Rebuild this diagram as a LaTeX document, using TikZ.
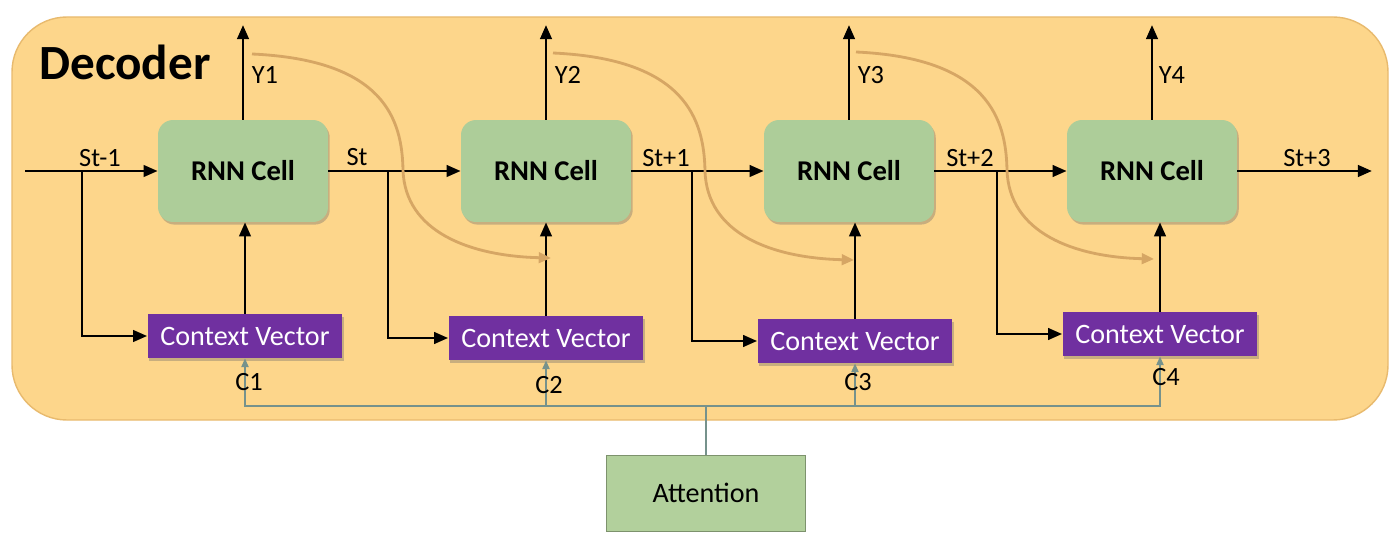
\documentclass[tikz,border=0pt]{standalone}
\usepackage{fontspec}
\setmainfont{Carlito}
\usetikzlibrary{arrows.meta,shadows}

\definecolor{decfill}{RGB}{253,214,139}
\definecolor{decedge}{RGB}{232,186,110}
\definecolor{cellfill}{RGB}{173,205,153}
\definecolor{cvfill}{RGB}{112,48,160}
\definecolor{attfill}{RGB}{178,208,156}
\definecolor{curvec}{RGB}{214,166,100}
\definecolor{busc}{RGB}{118,146,140}

\begin{document}
\begin{tikzpicture}
[x=0.02cm,y=-0.02cm,
>={Triangle[length=8pt,width=6.5pt]},
cell/.style={draw=none, fill=cellfill, rounded corners=0.3cm,
  minimum width=3.4cm, minimum height=2.04cm,
  font=\fontsize{16.3}{19}\selectfont\bfseries,
  drop shadow={shadow xshift=1pt, shadow yshift=-1.5pt, opacity=0.35, fill=black!60}},
cvbox/.style={fill=cvfill, text=white, minimum width=3.9cm, minimum height=0.88cm,
  font=\fontsize{16}{19}\selectfont,
  drop shadow={shadow xshift=1pt, shadow yshift=-1.5pt, opacity=0.35, fill=black!60}},
lbl/.style={font=\fontsize{15}{17}\selectfont, inner sep=0pt},
flow/.style={->, line width=1.6pt, black},
attline/.style={line width=1.2pt, busc, -{Triangle[length=5pt,width=4pt]}},
feedback/.style={line width=1.6pt, curvec, -{Triangle[length=7pt,width=6pt]}}]
  \useasboundingbox (0,0) rectangle (1400,547);
  % decoder area
  \draw [fill=decfill, draw=decedge, line width=0.8pt, rounded corners=1.1cm] (12,17) rectangle (1388,420);
  \node [font=\fontsize{28}{32}\selectfont\bfseries] (title) at (125,62) {Decoder};

  % rnn cells
  \node [cell] (cell1) at (243,171) {RNN Cell};
  \node [cell] (cell2) at (546,171) {RNN Cell};
  \node [cell] (cell3) at (849,171) {RNN Cell};
  \node [cell] (cell4) at (1152,171) {RNN Cell};

  % context vectors
  \node [cvbox] (cv1) at (245,336) {Context Vector};
  \node [cvbox] (cv2) at (546,338) {Context Vector};
  \node [cvbox] (cv3) at (855,341) {Context Vector};
  \node [cvbox] (cv4) at (1160,334) {Context Vector};

  \node [fill=attfill, draw=attfill!70!black, line width=0.4pt, minimum width=3.98cm, minimum height=1.52cm,
    font=\fontsize{16}{19}\selectfont] (att) at (706,493) {Attention};

  % outputs
  \coordinate (y1) at (243,25);
  \coordinate (y2) at (546,25);
  \coordinate (y3) at (849,25);
  \coordinate (y4) at (1152,25);
  \draw [flow] (cell1.north) -- (y1);
  \draw [flow] (cell2.north) -- (y2);
  \draw [flow] (cell3.north) -- (y3);
  \draw [flow] (cell4.north) -- (y4);
  \node [lbl] (ly1) at (265,75) {Y1};
  \node [lbl] (ly2) at (568,75) {Y2};
  \node [lbl] (ly3) at (871,75) {Y3};
  \node [lbl] (ly4) at (1172,75) {Y4};

  % hidden state
  \coordinate (sin) at (25,171);
  \coordinate (sout) at (1372,171);
  \draw [flow] (sin) -- (cell1.west);
  \draw [flow] (cell1.east) -- (cell2.west);
  \draw [flow] (cell2.east) -- (cell3.west);
  \draw [flow] (cell3.east) -- (cell4.west);
  \draw [flow] (cell4.east) -- (sout);
  \node [lbl] (s0) at (100,158) {St-1};
  \node [lbl] (s1) at (357,157) {St};
  \node [lbl] (s2) at (666,158) {St+1};
  \node [lbl] (s3) at (970,158) {St+2};
  \node [lbl] (s4) at (1307,158) {St+3};

  % branches to the context vectors
  \coordinate (b1) at (82,171);
  \coordinate (b2) at (388,171);
  \coordinate (b3) at (692,171);
  \coordinate (b4) at (997,171);
  \draw [flow] (b1) |- (cv1.west);
  \draw [flow] (b2) |- (cv2.west);
  \draw [flow] (b3) |- (cv3.west);
  \draw [flow] (b4) |- (cv4.west);

  \draw [flow] (cv1.north) -- (cv1.north |- cell1.south);
  \draw [flow] (cv2.north) -- (cv2.north |- cell2.south);
  \draw [flow] (cv3.north) -- (cv3.north |- cell3.south);
  \draw [flow] (cv4.north) -- (cv4.north |- cell4.south);

  % feedback of the outputs
  \coordinate (e1) at (551,258);
  \coordinate (e2) at (854,260);
  \coordinate (e3) at (1154,259);
  \draw [feedback] (252,54) .. controls (385,60) and (402,120) .. (403,170) .. controls (405,232) and (470,256) .. (e1);
  \draw [feedback] (553,53) .. controls (686,59) and (704,120) .. (705,171) .. controls (707,234) and (772,258) .. (e2);
  \draw [feedback] (856,52) .. controls (989,58) and (1006,120) .. (1007,170) .. controls (1009,233) and (1074,257) .. (e3);

  % attention bus
  \coordinate (bus) at (706,406);
  \draw [busc, line width=1.2pt] (att.north) -- (bus);
  \draw [attline] (bus) -| (cv1.south);
  \draw [attline] (bus) -| (cv4.south);
  \draw [attline] (cv2.south |- bus) -- (cv2.south);
  \draw [attline] (cv3.south |- bus) -- (cv3.south);
  \node [lbl] (c1) at (249,382) {C1};
  \node [lbl] (c2) at (549,385) {C2};
  \node [lbl] (c3) at (858,382) {C3};
  \node [lbl] (c4) at (1166,377) {C4};
\end{tikzpicture}
\end{document}
